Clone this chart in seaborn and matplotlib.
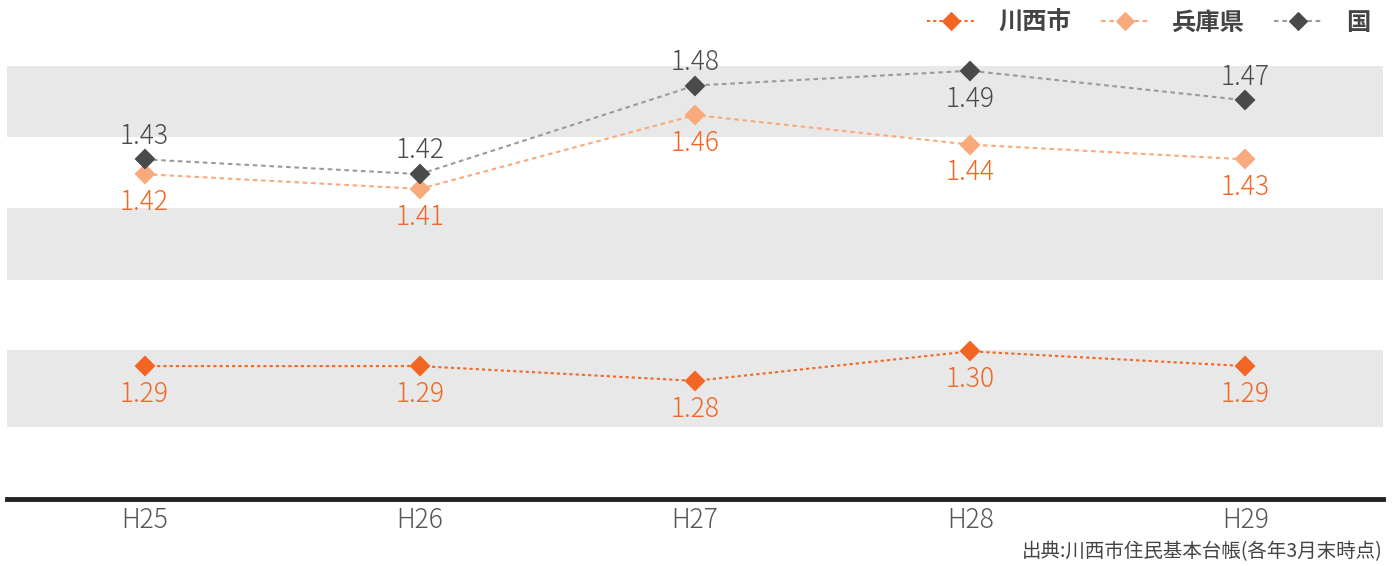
import pandas as pd
import matplotlib
matplotlib.use('Agg')
import matplotlib.pyplot as plt
import seaborn as sns

# 合計特殊出生率
years = ['H25', 'H26', 'H27', 'H28', 'H29']
kawanishi = [1.29, 1.29, 1.28, 1.30, 1.29]
hyogo = [1.42, 1.41, 1.46, 1.44, 1.43]
kuni = [1.43, 1.42, 1.48, 1.49, 1.47]
areas = ['川西市', '兵庫県', '国']

# label above (+1) or below (-1) each point
kuni_pos = [1, 1, 1, -1, 1]

colors = {'川西市': '#f26522', '兵庫県': '#f9a97b', '国': '#4a4a4a'}
line_colors = {'川西市': '#f26522', '兵庫県': '#f9a97b', '国': '#9a9a9a'}
label_colors = {'川西市': '#f26522', '兵庫県': '#f26522', '国': '#4a4a4a'}

df = pd.DataFrame({
    'year': years * 3,
    'value': kawanishi + hyogo + kuni,
    'area': [a for a in areas for _ in years],
})

sns.set_style('white')
plt.rcParams['font.family'] = ['Noto Sans CJK JP', 'DejaVu Sans']

fig = plt.figure(figsize=(13.92, 5.66), dpi=100)
ax = fig.add_axes([7 / 1392, 67 / 566, 1376 / 1392, 443 / 566])

# alternating grey bands
for lo, hi in [(1.249, 1.301), (1.348, 1.397), (1.445, 1.493)]:
    ax.axhspan(lo, hi, color='#e8e8e8', zorder=0, lw=0)

sns.lineplot(data=df, x='year', y='value', hue='area', style='area',
             hue_order=areas, style_order=areas, palette=line_colors,
             markers={a: 'D' for a in areas},
             dashes={'川西市': (1.5, 1.5), '兵庫県': (2.2, 1.8), '国': (2.2, 1.8)},
             markersize=9, linewidth=1.5, ax=ax, zorder=3)

# colour markers separately from the lines
for line, a in zip(ax.get_lines(), areas):
    line.set_markerfacecolor(colors[a])
    line.set_markeredgecolor(colors[a])
    line.set_markeredgewidth(1.5)
    line.set_solid_joinstyle('round')

# value labels
for vals, a, pos in [(kawanishi, '川西市', [-1] * 5), (hyogo, '兵庫県', [-1] * 5),
                     (kuni, '国', kuni_pos)]:
    for i, (v, p) in enumerate(zip(vals, pos)):
        ax.annotate(f'{v:.2f}', (i, v), xytext=(0, 7 if p > 0 else -10),
                    textcoords='offset points',
                    ha='center', va='bottom' if p > 0 else 'top',
                    fontsize=19, fontweight='light', color=label_colors[a])

ax.set_xlim(-0.5, 4.5)
ax.set_ylim(1.2, 1.5)
ax.set_xlabel('')
ax.set_ylabel('')
ax.set_yticks([])
ax.tick_params(axis='x', length=0, labelsize=19, labelcolor='#555555', pad=5)
for t in ax.get_xticklabels():
    t.set_fontweight('light')
for s in ['top', 'left', 'right']:
    ax.spines[s].set_visible(False)
ax.spines['bottom'].set_color('#222222')
ax.spines['bottom'].set_linewidth(3.5)

handles, labels = ax.get_legend_handles_labels()
for h, a in zip(handles, labels):
    h.set_markerfacecolor(colors[a])
    h.set_markeredgecolor(colors[a])
ax.get_legend().remove()
leg = fig.legend(handles, labels, loc='upper right', bbox_to_anchor=(1.0, 1.02),
                 ncol=3, frameon=False, handlelength=2.0, handletextpad=0.95,
                 columnspacing=1.2, prop={'size': 17.5, 'weight': 'bold'})
for t in leg.get_texts():
    t.set_color('#444444')

fig.text(0.993, 0.006, '出典:川西市住民基本台帳(各年3月末時点)', ha='right', va='bottom',
         fontsize=14, color='#444444')

fig.savefig('out.png', dpi=100)
